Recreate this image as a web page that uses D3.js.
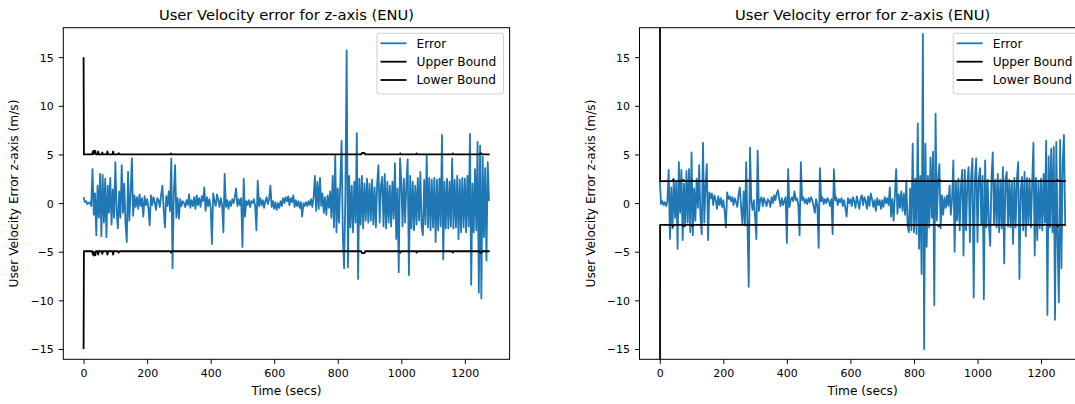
<!DOCTYPE html>
<html><head><meta charset="utf-8">
<script src="https://cdn.jsdelivr.net/npm/d3@7"></script>
<style>
body{margin:0;background:#fff}
svg{display:block}
text{font-family:"DejaVu Sans",sans-serif;fill:#000}
</style>
</head><body>
<svg id="chart" width="1075" height="404"></svg>
<script>
// ---- data ----
const sampleStepSecs = 4;          // spacing of the error samples (secs)
const chartTitle = "User Velocity error for z-axis (ENU)";
const xLabel = "Time (secs)";
const yLabel = "User Velocity Error z-axis (m/s)";
const seriesNames = ["Error", "Upper Bound", "Lower Bound"];
const xTicks = [0, 200, 400, 600, 800, 1000, 1200];
const yTicks = [-15, -10, -5, 0, 5, 10, 15];

// left panel: error (m/s), one value every 4 s from t=0
const errorLeft = [
 0.6, 0.1, 0.2,-0.1, 0.0, 0.1,-0.3, 3.5,-1.2, 1.0,-3.3, 1.8,-1.5, 3.0,-3.4, 2.9,-2.0, 2.5,-3.5, 1.8,-1.0, 2.6,-2.2, 1.4,-1.5,
 4.2,-0.8,-2.6, 1.2,-1.5, 3.9,-1.0, 2.0,-2.2,-4.0, 3.2,-1.8, 1.0, 4.6,-1.3, 0.8,-0.4, 0.6,-0.6, 0.9,-0.3, 0.5,-1.4, 0.7,-0.2,
 0.4,-0.5,-2.3, 0.8,-0.2, 0.6, 0.1,-0.7, 0.5, 0.3,-0.4, 0.8, 1.8,-0.6,-2.5, 0.7,-0.3, 1.2,-0.8, 4.6,-6.7, 1.0, 3.9,-1.5, 0.5,
-1.6, 0.4,-0.3, 0.2, 0.0,-0.4, 0.3,-0.2, 0.9,-0.5, 0.3,-0.3, 0.6,-0.6, 0.8,-0.2, 0.5,-0.4, 0.7, 0.2, 1.6,-0.8, 0.6,-0.3, 0.4,
-0.5,-4.2, 1.0, 0.2,-0.3, 0.9, 0.3,-0.4, 0.5,-0.2,-3.0, 3.0,-0.4, 0.3,-0.6, 0.2,-0.3, 0.4, 0.0, 0.6, 1.5,-0.3, 0.4,-0.2, 0.5,
-4.5, 2.5,-1.4, 0.2,-0.2, 0.3,-0.4, 0.2, 0.0, 0.4,-0.3,-2.8, 2.3,-0.3, 0.5,-0.2, 0.3,-0.5, 0.2, 0.6,-0.1, 0.4, 1.8,-0.4, 0.2,
-0.6, 0.1,-0.7, 0.0,-0.5, 0.2,-0.3, 0.5, 0.0, 0.6, 0.2, 0.7,-0.2, 0.5, 0.1, 0.8,-0.4, 0.3,-0.3, 0.2,-0.5, 0.1,-1.4, 0.0,-0.3,
 0.1,-0.3, 0.2,-0.2, 0.4,-0.4, 0.6, 2.8,-0.8, 2.2,-0.6, 2.6,-0.3, 1.0,-1.0, 0.6,-1.2, 0.8,-0.5, 1.2,-1.5, 2.8,-2.5, 4.9,-3.0,
 1.5,-2.0, 2.2, 6.4,-3.5,-6.7, 1.0,15.7,-6.6, 2.8,-2.5, 1.8,-3.0, 2.2,-2.0, 7.2,-7.8, 2.5,-2.2, 2.8,-2.6, 2.0,-1.8, 2.5,-2.0,
 2.0,-1.8, 2.4,-2.2, 1.6,-2.5, 2.0, 3.9,-2.0, 1.8, 2.7,-2.4, 3.0,-2.6, 2.2,-2.0, 1.8,-2.4, 2.2,-1.6, 4.1,-3.7, 1.5,-7.1, 4.6,
 2.2,-2.4, 2.5,-2.0, 2.0, 4.5,-7.4, 2.8,-2.6, 2.2,-2.8, 1.8,-2.2, 2.6,-1.8, 3.2,-2.5,-3.3, 2.4,-2.2, 4.9,-2.5, 2.6,-2.8, 2.4,
-2.5, 2.6,-4.0, 2.4,-2.8, 2.5,-2.4, 7.0,-5.8, 2.2,-2.6, 2.5,-2.6, 2.2,-2.4, 4.6,-2.6, 2.4,-2.5, 2.8,-3.7, 2.4,-3.0, 2.6,-2.5,
 2.5,-3.0, 2.8,-2.4, 7.1,-8.4, 2.0,-3.0, 3.5,-2.8, 6.3,-9.2, 5.9,-9.8, 4.8,-3.5, 3.6,-5.9, 4.2, 0.2
];

// right panel: error (m/s), one value every 4 s from t=0
const errorRight = [
 2.3,-0.1, 0.2,-0.2, 0.1,-0.3, 0.2, 3.4,-3.7, 1.6,-2.6, 2.5,-1.5, 2.2,-4.7, 4.2,-1.0, 3.4,-3.8, 2.0,-2.4, 3.3,-2.0, 3.5,-3.0,
 5.2,-3.3, 1.5,-1.8, 2.5,-0.5, 3.9,-1.5,-3.2, 6.2,-2.0, 1.8, 4.0,-3.8, 1.1, 0.5, 1.0,-0.2, 0.8, 0.3,-0.6, 0.7,-0.2, 0.5,-0.4,
 0.3,-0.8,-2.5, 1.1, 0.4, 0.7, 0.2, 0.6,-0.2, 0.5, 0.1,-0.4, 0.9, 1.6,-0.5,-2.1, 1.2,-2.3, 4.2,-2.3,-8.6, 5.7, 0.2,-0.7, 0.3,
-1.4,-3.7, 5.4,-0.8, 0.3, 0.6,-0.3, 0.5, 0.1,-0.3, 0.4, 0.2,-0.4, 0.6, 0.0, 0.8, 0.3, 1.0, 1.3, 0.4,-0.3, 0.5,-0.2, 0.2, 0.6,
-4.1, 3.5,-0.4, 0.3, 0.6, 0.2, 1.2, 0.3, 0.5,-0.2,-3.3, 4.2, 0.3, 0.6, 0.0, 0.4,-0.1, 0.5, 0.1, 0.6, 0.3,-0.3,-1.0, 0.4,-0.3,
-4.6, 3.6, 0.2, 0.6,-0.1, 0.4, 0.0, 0.5, 0.2,-0.3, 0.4,-3.2, 3.5, 0.3, 0.6,-0.2, 0.4, 0.1, 0.5,-0.3, 0.3,-0.5,-1.4, 0.5, 0.0,
 0.4,-0.3, 0.6, 0.2,-0.5, 0.7, 0.1,-0.6, 0.5, 0.8,-0.2, 0.6, 0.2,-0.6, 0.7,-0.3, 1.0, 0.4,-0.4, 0.3,-0.8, 0.5,-0.2, 0.3,-0.6,
 0.3,-0.4, 0.6, 0.0, 0.5,-0.2, 1.6,-1.4, 0.4,-1.8, 0.8, 3.5,-1.1, 0.9,-0.5, 1.2,-0.8, 1.0,-1.2, 2.3,-2.3,-3.0, 1.5,-2.8, 6.1,
-3.0, 2.5,-3.2, 8.2,-4.7, 2.8,-7.3,17.4,-15.0,6.1,-4.5, 2.8,-2.5, 4.7,-1.5, 5.3,-10.5,9.2,-1.8, 2.2, 4.0,-2.6, 0.8,-1.2, 0.6,
-0.5, 0.8,-0.3, 1.8,-1.2, 0.5, 4.4,-5.0, 2.2,-1.8, 2.5,-2.8, 1.8, 3.4,-5.4, 3.4,-2.8, 2.0, 3.7,-4.0, 2.6, 4.6,-9.7, 2.5, 4.6,
-4.0, 2.5, 3.6,-2.2, 2.8,-9.9, 4.4,-2.5, 2.4,-2.2,-4.4, 2.6, 5.2,-2.1, 2.4,-2.5, 3.0,-3.0, 2.4,-2.6, 3.7,-6.2, 2.5, 3.2,-2.4,
 2.4,-2.5, 2.2,-4.2, 2.6,-2.5, 2.5, 4.2,-7.8, 1.3, 2.7,-2.8, 3.2,-3.4, 2.6,-2.1, 2.5,-2.5, 2.0, 6.2,-5.4, 2.6,-3.8, 2.3,-2.6,
 2.5,-2.8, 3.0,-2.0, 6.4,-11.5,4.8,-2.5, 5.6,-3.0, 5.8,-12.0,6.3,-4.0,-10.2,6.5,-6.7, 4.0, 7.0,-2.3
];

// bounds: [time (s), value (m/s)] breakpoints
const upperLeft = [[0,15],[1,5],[27,5],[29,5.3],[31,5.05],[33,5.4],[35,5.1],[37,5.35],[39,5],[44,5],[46,5.3],[48,5],[57,5],[59,5.2],[61,5],[73,5],[75,5.3],[77,5],[91,5],[93,5.3],[95,5],[108,5],[110,5.12],[114,5],[273,5],[275,5.1],[277,5],[874,5],[876,5.15],[884,5.15],[886,5],[995,5],[997,5.1],[999,5],[1046,5],[1048,5.1],[1050,5],[1160,5],[1162,5.1],[1164,5],[1246,5],[1248,5.1],[1252,5.1],[1254,5],[1278,5]];
const lowerLeft = [[0,-15],[1,-4.95],[27,-4.95],[29,-5.3],[31,-5.0],[33,-5.4],[35,-5.1],[37,-5.35],[39,-4.95],[44,-4.95],[46,-5.3],[48,-4.95],[57,-4.95],[59,-5.2],[61,-4.95],[73,-4.95],[75,-5.3],[77,-4.95],[91,-4.95],[93,-5.3],[95,-4.95],[108,-4.95],[110,-5.1],[114,-4.95],[273,-4.95],[275,-5.1],[277,-4.95],[874,-4.95],[876,-5.15],[884,-5.15],[886,-4.95],[995,-4.95],[997,-5.1],[999,-4.95],[1046,-4.95],[1048,-5.1],[1050,-4.95],[1160,-4.95],[1162,-5.1],[1164,-4.95],[1246,-4.95],[1248,-5.1],[1252,-5.1],[1254,-4.95],[1278,-4.95]];
const upperRight = [[0,60],[1,2.25],[40,2.25],[42,2.4],[44,2.25],[72,2.25],[74,2.4],[76,2.3],[78,2.25],[100,2.25],[102,2.35],[104,2.25],[276,2.25],[278,2.32],[280,2.25],[878,2.25],[880,2.4],[882,2.25],[1250,2.25],[1252,2.4],[1254,2.25],[1278,2.25]];
const lowerRight = [[0,-60],[1,-2.25],[40,-2.25],[42,-2.4],[44,-2.25],[72,-2.25],[74,-2.4],[76,-2.3],[78,-2.25],[100,-2.25],[102,-2.35],[104,-2.25],[876,-2.25],[878,-2.4],[880,-2.25],[1250,-2.25],[1252,-2.4],[1254,-2.25],[1278,-2.25]];

// ---- drawing ----
const svg = d3.select("#chart");
const W = 446.3, TOP = 27.7, BOTTOM = 359.3;
const xDomain = [-63.85, 1340.85], yDomain = [-16.06, 18.03];
const panels = [
  {left: 63.3,  err: errorLeft,  up: upperLeft,  lo: lowerLeft},
  {left: 639.5, err: errorRight, up: upperRight, lo: lowerRight}
];
const fmt = d => String(d).replace("-", "\u2212");

panels.forEach((p, i) => {
  const x = d3.scaleLinear().domain(xDomain).range([p.left, p.left + W]);
  const y = d3.scaleLinear().domain(yDomain).range([BOTTOM, TOP]);
  const g = svg.append("g");

  const clipId = "clip" + i;
  svg.append("clipPath").attr("id", clipId).append("rect")
    .attr("x", p.left).attr("y", TOP).attr("width", W).attr("height", BOTTOM - TOP);

  const plot = g.append("g").attr("clip-path", `url(#${clipId})`);
  const line = d3.line().x(d => x(d[0])).y(d => y(d[1]));
  const errPts = p.err.map((v, k) => [k * sampleStepSecs, v]);

  plot.append("path").datum(errPts).attr("d", line)
    .attr("fill", "none").attr("stroke", "#1f77b4").attr("stroke-width", 1.8)
    .attr("stroke-linejoin", "round");
  [p.up, p.lo].forEach(b => {
    plot.append("path").datum(b).attr("d", line)
      .attr("fill", "none").attr("stroke", "#000").attr("stroke-width", 1.8)
      .attr("stroke-linejoin", "round");
  });

  // axes
  const xAxis = g.append("g").attr("transform", `translate(0,${BOTTOM})`)
    .call(d3.axisBottom(x).tickValues(xTicks).tickFormat(fmt).tickSize(4.5).tickSizeOuter(0));
  xAxis.select(".domain").remove();
  xAxis.selectAll(".tick line").attr("stroke", "#000").attr("stroke-width", 1);
  xAxis.selectAll(".tick text").attr("y", 18).attr("dy", null)
    .style("font-size", "11px").style("font-family", "'DejaVu Sans', sans-serif");

  const yAxis = g.append("g").attr("transform", `translate(${p.left},0)`)
    .call(d3.axisLeft(y).tickValues(yTicks).tickFormat(fmt).tickSize(4.5).tickSizeOuter(0));
  yAxis.select(".domain").remove();
  yAxis.selectAll(".tick line").attr("stroke", "#000").attr("stroke-width", 1);
  yAxis.selectAll(".tick text").attr("x", -9.6).attr("dy", "0.36em")
    .style("font-size", "11px").style("font-family", "'DejaVu Sans', sans-serif");

  // frame
  g.append("rect").attr("x", p.left).attr("y", TOP).attr("width", W).attr("height", BOTTOM - TOP)
    .attr("fill", "none").attr("stroke", "#000").attr("stroke-width", 1);

  // labels
  g.append("text").attr("x", p.left + W / 2).attr("y", 19.5).attr("text-anchor", "middle")
    .style("font-size", "14.7px").text(chartTitle);
  g.append("text").attr("x", p.left + W / 2).attr("y", 395).attr("text-anchor", "middle")
    .style("font-size", "12.2px").text(xLabel);
  g.append("text").attr("transform", `translate(${p.left - 45},${(TOP + BOTTOM) / 2}) rotate(-90)`)
    .attr("text-anchor", "middle").style("font-size", "12.2px").text(yLabel);

  // legend
  const lx = p.left + W - 132.6, ly = 33.3;
  const leg = g.append("g");
  leg.append("rect").attr("x", lx).attr("y", ly).attr("width", 126.6).attr("height", 60.7)
    .attr("rx", 2.5).attr("fill", "#fff").attr("fill-opacity", 0.8)
    .attr("stroke", "#cccccc").attr("stroke-width", 1);
  const legColors = ["#1f77b4", "#000", "#000"];
  const rowY = [43.3, 61.7, 80.0];
  seriesNames.forEach((name, k) => {
    leg.append("line").attr("x1", lx + 3.5).attr("x2", lx + 29.5)
      .attr("y1", rowY[k]).attr("y2", rowY[k])
      .attr("stroke", legColors[k]).attr("stroke-width", 1.8);
    leg.append("text").attr("x", lx + 39.5).attr("y", rowY[k]).attr("dy", "0.36em")
      .style("font-size", "12.2px").text(name);
  });
});
</script>
</body></html>
